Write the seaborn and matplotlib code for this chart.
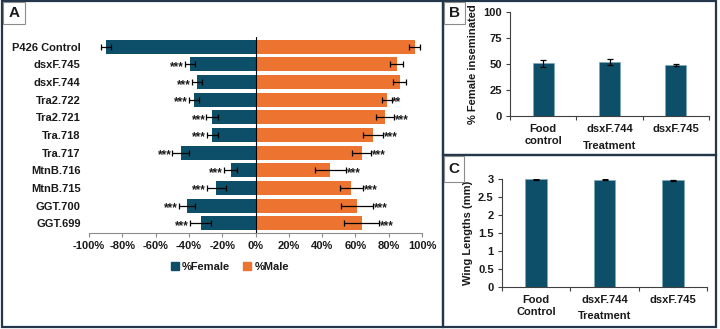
import numpy as np
import pandas as pd
import matplotlib
matplotlib.use('Agg')
import matplotlib.pyplot as plt
import seaborn as sns
from matplotlib.patches import Rectangle, Patch
from matplotlib.ticker import PercentFormatter, FixedLocator

# Panel A: sex ratio per line (percent, female drawn negative)
lines = ['P426 Control', 'dsxF.745', 'dsxF.744', 'Tra2.722', 'Tra2.721', 'Tra.718',
         'Tra.717', 'MtnB.716', 'MtnB.715', 'GGT.700', 'GGT.699']
female = [-89.5, -39.6, -35.4, -37.2, -26.0, -26.0, -45.0, -15.0, -23.5, -41.4, -33.0]
female_err = [3.0, 3.0, 3.0, 3.0, 3.5, 3.3, 5.0, 4.0, 5.7, 4.8, 6.4]
male = [95.5, 84.7, 86.5, 78.7, 78.0, 70.8, 63.8, 45.0, 57.6, 60.8, 63.8]
male_err = [3.5, 4.0, 4.0, 3.0, 5.4, 6.0, 5.7, 9.3, 6.9, 9.6, 10.5]
female_sig = [''] + ['***'] * 10
male_sig = ['', '', '', '**'] + ['***'] * 7

# Panel B: insemination
treat_b = ['Food\ncontrol', 'dsxF.744', 'dsxF.745']
insem = [50.5, 52.0, 49.0]
insem_err = [3.5, 3.0, 1.0]

# Panel C: wing lengths
treat_c = ['Food\nControl', 'dsxF.744', 'dsxF.745']
wing = [2.99, 2.975, 2.97]
wing_err = [0.012, 0.012, 0.012]

TEAL = '#0d4f69'
ORANGE = '#ed7331'
BORDER = '#23374a'
TXT = '#1a1a1a'
W, H = 720, 329

sns.set_theme(style='white')
plt.rcParams['font.family'] = ['Liberation Sans', 'DejaVu Sans']
plt.rcParams['font.weight'] = 'bold'
plt.rcParams['axes.labelweight'] = 'bold'
plt.rcParams['axes.unicode_minus'] = False
plt.rcParams['text.color'] = TXT
plt.rcParams['xtick.color'] = TXT
plt.rcParams['ytick.color'] = TXT
plt.rcParams['axes.labelcolor'] = TXT

fig = plt.figure(figsize=(W / 100, H / 100), dpi=100)


def px_axes(left, top, right, bottom):
    return fig.add_axes([left / W, 1 - bottom / H, (right - left) / W, (bottom - top) / H])


def px_rect(x1, y1, x2, y2, **kw):
    r = Rectangle((x1 / W, 1 - y2 / H), (x2 - x1) / W, (y2 - y1) / H,
                  transform=fig.transFigure, **kw)
    fig.add_artist(r)


# ---- Panel A ----
axA = px_axes(89, 37, 422, 233)
df_a = pd.DataFrame({'Line': lines * 2,
                     'Value': female + male,
                     'Sex': ['%Female'] * len(lines) + ['%Male'] * len(lines)})
sns.barplot(data=df_a, y='Line', x='Value', hue='Sex', dodge=False,
            palette=[TEAL, ORANGE], saturation=1, width=0.79, errorbar=None,
            legend=False, linewidth=0, ax=axA)
pos = np.arange(len(lines))
axA.errorbar(female, pos, xerr=female_err, fmt='none', ecolor='black',
             elinewidth=0.9, capsize=2.5, capthick=0.9)
axA.errorbar(male, pos, xerr=male_err, fmt='none', ecolor='black',
             elinewidth=0.9, capsize=2.5, capthick=0.9)
for i in range(len(lines)):
    axA.text(female[i] - female_err[i] - 0.5, i + 0.15, female_sig[i],
             ha='right', va='center', fontsize=8.5)
    axA.text(male[i] + male_err[i] + 0.5, i + 0.15, male_sig[i],
             ha='left', va='center', fontsize=8.5)
axA.axvline(0, color='black', lw=0.8)
axA.set_xlim(-100, 100)
axA.set_ylim(len(lines) - 0.45, -0.55)
axA.xaxis.set_major_locator(FixedLocator(np.arange(-100, 101, 20)))
axA.xaxis.set_major_formatter(PercentFormatter(100, decimals=0))
axA.set_xlabel('')
axA.set_ylabel('')
for s in ['top', 'right', 'left']:
    axA.spines[s].set_visible(False)
axA.spines['bottom'].set_color('#8c8c8c')
axA.spines['bottom'].set_linewidth(0.8)
axA.tick_params(axis='x', labelsize=8, length=3, width=0.8, color='#8c8c8c',
                direction='out', pad=3, bottom=True)
axA.tick_params(axis='y', labelsize=8, length=0, pad=6)

fig.legend(handles=[Patch(color=TEAL, label='%Female'), Patch(color=ORANGE, label='%Male')],
           loc='center', bbox_to_anchor=(230 / W, 1 - 267 / H), ncol=2, frameon=False,
           prop={'weight': 'bold', 'size': 8}, handlelength=0.7, handleheight=0.7,
           handletextpad=0.3, columnspacing=1.2)


def small_bar(ax, cats, vals, errs, ymax, ticks, ylabel, ylab_x, xlab_y):
    sns.barplot(x=cats, y=vals, color=TEAL, saturation=1, width=0.32, errorbar=None,
                edgecolor='#7fa8b8', linewidth=0.5, ax=ax)
    ax.errorbar(np.arange(len(cats)), vals, yerr=errs, fmt='none', ecolor='black',
                elinewidth=0.9, capsize=2.5, capthick=0.9)
    ax.set_ylim(0, ymax)
    ax.set_xlim(-0.5, len(cats) - 0.5)
    ax.set_yticks(ticks)
    ax.set_yticklabels([('%g' % t) for t in ticks])
    ax.xaxis.set_minor_locator(FixedLocator(np.arange(-0.5, len(cats), 1.0)))
    for s in ['top', 'right']:
        ax.spines[s].set_visible(False)
    for s in ['left', 'bottom']:
        ax.spines[s].set_color('#404040')
        ax.spines[s].set_linewidth(0.8)
    ax.tick_params(axis='x', which='major', length=0, labelsize=8, pad=6)
    ax.tick_params(axis='x', which='minor', length=3, width=0.8, color='#404040',
                   direction='out', bottom=True)
    ax.tick_params(axis='y', length=3, width=0.8, color='#404040', direction='out',
                   labelsize=8, pad=3, left=True)
    ax.set_ylabel(ylabel, fontsize=8)
    ax.yaxis.set_label_coords(ylab_x, 0.5)
    ax.set_xlabel('Treatment', fontsize=8)
    ax.xaxis.set_label_coords(0.5, xlab_y)


axB = px_axes(510, 12, 709, 116)
small_bar(axB, treat_b, insem, insem_err, 100, [0, 25, 50, 75, 100],
          '% Female inseminated', -0.16, -0.24)

axC = px_axes(502, 179, 707, 287)
small_bar(axC, treat_c, wing, wing_err, 3, [0, 0.5, 1, 1.5, 2, 2.5, 3],
          'Wing Lengths (mm)', -0.14, -0.22)

# panel frames
px_rect(2, 1, 443, 327, fill=False, edgecolor=BORDER, lw=1.6)
px_rect(443, 1, 716, 155, fill=False, edgecolor=BORDER, lw=1.6)
px_rect(443, 155, 716, 327, fill=False, edgecolor=BORDER, lw=1.6)

# panel letters
for x1, y1, x2, y2, letter in [(3, 2, 25, 24, 'A'), (444, 2, 465, 24, 'B'),
                               (444, 156, 464, 182, 'C')]:
    px_rect(x1, y1, x2, y2, facecolor='white', edgecolor='#8c8c8c', lw=0.8)
    fig.text((x1 + x2) / 2 / W, 1 - (y1 + y2) / 2 / H, letter, ha='center', va='center',
             fontsize=11, fontweight='bold')

fig.savefig('out.png', dpi=100)
